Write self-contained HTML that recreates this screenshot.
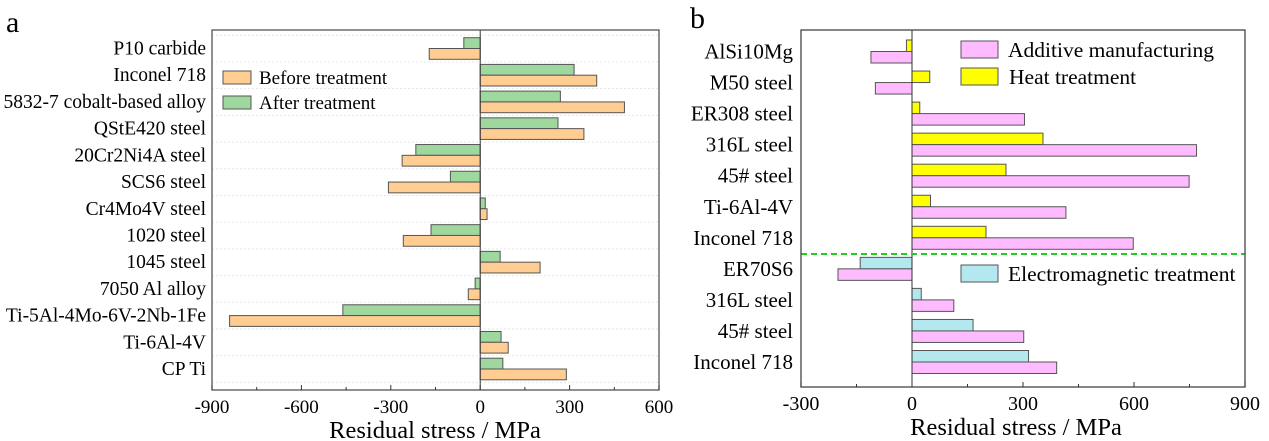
<!DOCTYPE html>
<html><head><meta charset="utf-8"><style>
body{margin:0;background:#fff;}
svg{display:block;font-family:"Liberation Serif",serif;}
</style></head><body>
<svg id="chart" width="1269" height="441" viewBox="0 0 1269 441">
<text x="6" y="32" font-size="30">a</text>
<text x="690" y="28" font-size="30">b</text>
<g id="pa"></g>
<g id="pb"></g>
</svg>
<script>
const catsA=["P10 carbide","Inconel 718","5832-7 cobalt-based alloy","QStE420 steel","20Cr2Ni4A steel","SCS6 steel","Cr4Mo4V steel","1020 steel","1045 steel","7050 Al alloy","Ti-5Al-4Mo-6V-2Nb-1Fe","Ti-6Al-4V","CP Ti"];
const beforeA=[-171,391,484,348,-262,-308,23,-258,201,-40,-841,94,289];
const afterA=[-55,315,269,261,-216,-100,17,-165,67,-17,-461,70,76];
const ticksA=[-900,-600,-300,0,300,600];
const catsB=["AlSi10Mg","M50 steel","ER308 steel","316L steel","45# steel","Ti-6Al-4V","Inconel 718","ER70S6","316L steel","45# steel","Inconel 718"];
const firstB=[-15,48,21,354,254,50,200,-140,25,165,315]; // heat (0-6) / electromagnetic (7-10)
const amB=[-111,-99,304,769,749,416,598,-200,113,302,391];
const ticksB=[-300,0,300,600,900];
const NS="http://www.w3.org/2000/svg";
function mk(p,t,a,txt){const e=document.createElementNS(NS,t);for(const k in a)e.setAttribute(k,a[k]);if(txt!==undefined)e.textContent=txt;p.appendChild(e);return e;}

// Panel A
(function(){
const g=document.getElementById('pa');
const L=212,R=659,T=30,B=390,min=-900,max=600;
const x=v=>L+(v-min)/(max-min)*(R-L);
const y=i=>48.5+i*(369-48.5)/(catsA.length-1);
const bh=10.8;
for(let i=0;i<=catsA.length;i++){const gy=y(i)-13.3;const l=mk(g,'line',{x1:L,x2:R,y1:gy,y2:gy,stroke:'#e6e6e6','stroke-dasharray':'2,2'});
}
catsA.forEach((c,i)=>{
const a=afterA[i],b=beforeA[i];
const r1=mk(g,'rect',{x:Math.min(x(0),x(a)),y:y(i)-bh,width:Math.abs(x(a)-x(0)),height:bh,fill:'#9ed89e',stroke:'#555','stroke-width':1});

const r2=mk(g,'rect',{x:Math.min(x(0),x(b)),y:y(i),width:Math.abs(x(b)-x(0)),height:bh,fill:'#ffcc92',stroke:'#555','stroke-width':1});

const t=mk(g,'text',{x:206,y:y(i)+6,'font-size':19.5,'text-anchor':'end'},c);

});
mk(g,'line',{x1:x(0),x2:x(0),y1:T,y2:B,stroke:'#333','stroke-width':1});
const fr=mk(g,'rect',{x:L,y:T,width:R-L,height:B-T,fill:'none',stroke:'#555','stroke-width':1.3});

for(let v=min;v<=max;v+=150){const mj=(v%300===0);mk(g,'line',{x1:x(v),x2:x(v),y1:B,y2:B-(mj?5:3),stroke:'#333'});}
ticksA.forEach(v=>{const t=mk(g,'text',{x:x(v),y:413,'font-size':19,'text-anchor':'middle'},String(v));
});
const xt=mk(g,'text',{x:435,y:438,'font-size':24.5,'text-anchor':'middle'},'Residual stress / MPa');

const lg=mk(g,'g',{});
mk(lg,'rect',{x:223,y:71,width:28,height:13,fill:'#ffcc92',stroke:'#555'});
mk(lg,'text',{x:259,y:84,'font-size':19},'Before treatment');
mk(lg,'rect',{x:223,y:96,width:28,height:13,fill:'#9ed89e',stroke:'#555'});
mk(lg,'text',{x:259,y:109,'font-size':19},'After treatment');
})();

// Panel B
(function(){
const g=document.getElementById('pb');
const L=801,R=1245,T=30,B=387,min=-300,max=900;
const x=v=>L+(v-min)/(max-min)*(R-L);
const y=i=>51.5+i*31.05;
const bh=11.5;
catsB.forEach((c,i)=>{
const a=firstB[i],b=amB[i];
const col=i<7?'#ffff00':'#b3e8ee';
const r1=mk(g,'rect',{x:Math.min(x(0),x(a)),y:y(i)-bh,width:Math.abs(x(a)-x(0)),height:bh,fill:col,stroke:'#555','stroke-width':1});

const r2=mk(g,'rect',{x:Math.min(x(0),x(b)),y:y(i),width:Math.abs(x(b)-x(0)),height:bh,fill:'#ffbbff',stroke:'#555','stroke-width':1});

const t=mk(g,'text',{x:793,y:y(i)+7,'font-size':21,'text-anchor':'end'},c);

});
mk(g,'line',{x1:x(0),x2:x(0),y1:T,y2:B,stroke:'#333','stroke-width':1});
const dl=mk(g,'line',{x1:L,x2:R,y1:254,y2:254,stroke:'#22cc22','stroke-width':2,'stroke-dasharray':'6,4'});

const fr=mk(g,'rect',{x:L,y:T,width:R-L,height:B-T,fill:'none',stroke:'#444','stroke-width':1.3});

for(let v=min;v<=max;v+=150){const mj=(v%300===0);mk(g,'line',{x1:x(v),x2:x(v),y1:B,y2:B-(mj?5:3),stroke:'#333'});}
ticksB.forEach(v=>{const t=mk(g,'text',{x:x(v),y:410,'font-size':20,'text-anchor':'middle'},String(v));
});
const xt=mk(g,'text',{x:1016,y:435,'font-size':24.5,'text-anchor':'middle'},'Residual stress / MPa');

const lg=mk(g,'g',{});
mk(lg,'rect',{x:961,y:41,width:37,height:17,fill:'#ffbbff',stroke:'#555'});
mk(lg,'text',{x:1008,y:57,'font-size':21.5},'Additive manufacturing');
mk(lg,'rect',{x:961,y:68,width:37,height:17,fill:'#ffff00',stroke:'#555'});
mk(lg,'text',{x:1009,y:84,'font-size':21.5},'Heat treatment');
mk(lg,'rect',{x:961,y:265,width:37,height:17,fill:'#b3e8ee',stroke:'#555'});
mk(lg,'text',{x:1008,y:281,'font-size':21.5},'Electromagnetic treatment');
})();
</script>
</body></html>
